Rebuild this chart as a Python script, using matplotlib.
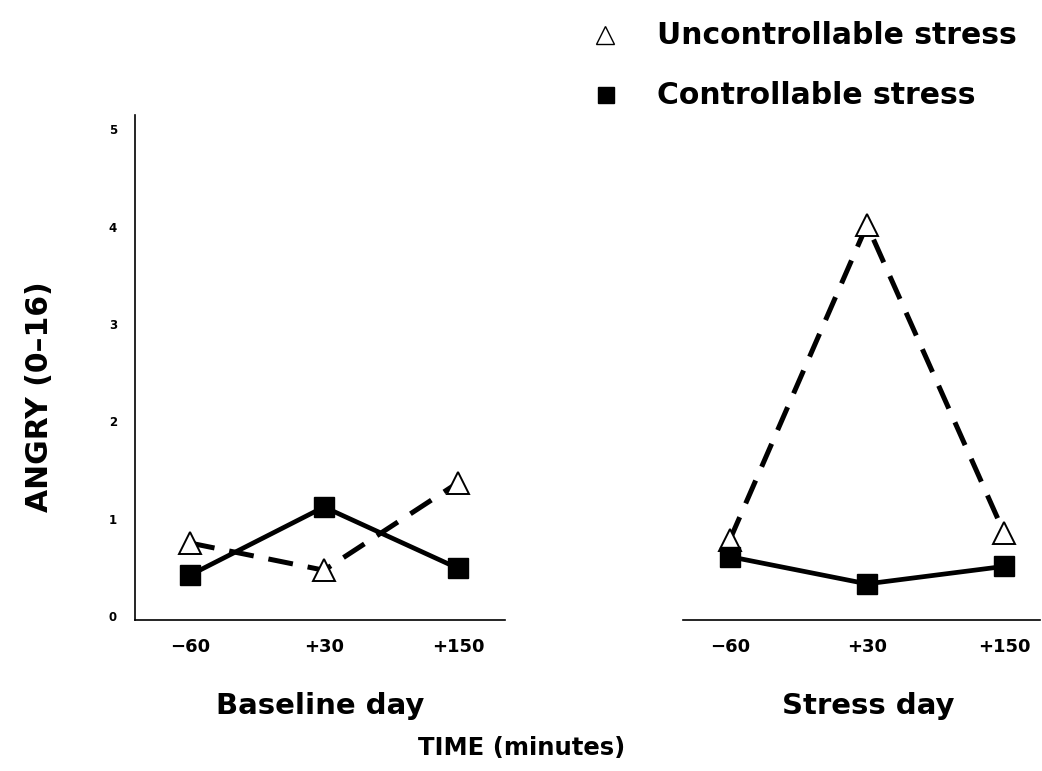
import matplotlib
matplotlib.use("Agg")
import matplotlib.pyplot as plt
from matplotlib.lines import Line2D

plt.rcParams['font.family'] = ['DejaVu Sans']
plt.rcParams['font.weight'] = 'bold'

time_labels = ["\u221260", "+30", "+150"]
panel_titles = ["Baseline day", "Stress day"]
legend_labels = ["Uncontrollable stress", "Controllable stress"]
uncontrollable_baseline = [0.75, 0.47, 1.37]
controllable_baseline = [0.42, 1.12, 0.49]
uncontrollable_stress = [0.78, 4.02, 0.85]
controllable_stress = [0.61, 0.33, 0.51]
y_ticks = [0, 1, 2, 3, 4, 5]

W, H = 1042, 771
fig = plt.figure(figsize=(W / 100, H / 100), dpi=100)
ax1 = fig.add_axes([0.1296, 0.196, 0.355, 0.655])
ax2 = fig.add_axes([0.6555, 0.196, 0.3426, 0.655])

x = list(range(len(time_labels)))
dash = (0, (5, 3))
for ax, unc, con, xlim in [
    (ax1, uncontrollable_baseline, controllable_baseline, (-0.41, 2.35)),
    (ax2, uncontrollable_stress, controllable_stress, (-0.34, 2.26)),
]:
    ax.plot(x, unc, linestyle=dash, color='black', linewidth=3.6,
            marker='^', markersize=16, markerfacecolor='white',
            markeredgecolor='black', markeredgewidth=1.4, zorder=3)
    ax.plot(x, con, linestyle='-', color='black', linewidth=3.4,
            marker='s', markersize=14, markerfacecolor='black',
            markeredgecolor='black', zorder=4)
    ax.set_xlim(*xlim)
    ax.set_ylim(-0.04, 5.15)
    ax.set_xticks(x)
    ax.set_xticklabels(time_labels, fontsize=13, fontweight='bold')
    ax.tick_params(axis='x', length=0, pad=13)
    for s in ['top', 'right']:
        ax.spines[s].set_visible(False)
    ax.spines['bottom'].set_linewidth(1.2)
    ax.spines['left'].set_linewidth(1.2)

fig.text(320 / W, 1 - 706 / H, panel_titles[0], ha='center', va='center',
         fontsize=21, fontweight='bold')
fig.text(868 / W, 1 - 706 / H, panel_titles[1], ha='center', va='center',
         fontsize=21, fontweight='bold')

ax1.set_yticks(y_ticks)
ax1.set_yticklabels([str(v) for v in y_ticks], fontsize=8.5, fontweight='bold')
ax1.tick_params(axis='y', length=0, pad=13)

ax2.spines['left'].set_visible(False)
ax2.set_yticks([])

fig.text(40 / W, 1 - 397 / H, "ANGRY (0\u201316)", rotation=90, ha='center', va='center',
         fontsize=21.5, fontweight='bold')
fig.text(522 / W, 1 - 748 / H, "TIME (minutes)", ha='center', va='center',
         fontsize=17.5, fontweight='bold')

# legend
leg_y = [35, 95]
fig.add_artist(Line2D([605 / W], [1 - leg_y[0] / H], transform=fig.transFigure,
                      linestyle='none', marker='^', markersize=13, markerfacecolor='white',
                      markeredgecolor='black', markeredgewidth=1.0))
fig.add_artist(Line2D([606 / W], [1 - leg_y[1] / H], transform=fig.transFigure,
                      linestyle='none', marker='s', markersize=11, markerfacecolor='black',
                      markeredgecolor='black'))
for lab, yy in zip(legend_labels, leg_y):
    fig.text(657 / W, 1 - yy / H, lab, ha='left', va='center', fontsize=21.5, fontweight='bold')

fig.savefig("out.png", dpi=100)
